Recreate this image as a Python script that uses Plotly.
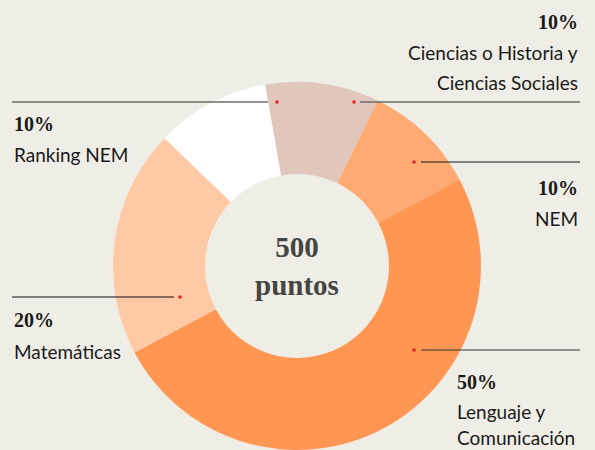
import plotly.graph_objects as go

W, H = 595, 450

# Data
categories = ["Ciencias o Historia y Ciencias Sociales", "NEM", "Lenguaje y Comunicación", "Matemáticas", "Ranking NEM"]
values = [10, 10, 50, 20, 10]
colors = ["#e0c6bb", "#ffaa72", "#ff9752", "#ffc9a6", "#ffffff"]
pct_labels = ["10%", "10%", "50%", "20%", "10%"]
name_lines = [["Ciencias o Historia y", "Ciencias Sociales"], ["NEM"], ["Lenguaje y", "Comunicación"], ["Matemáticas"], ["Ranking NEM"]]
center_text = "500<br>puntos"

BG = "#efeee6"

def px(x):
    return x / W

def py(y):
    return 1 - y / H

# pie geometry (pixels)
cx, cy, R = 297, 266, 184

fig = go.Figure(go.Pie(
    labels=categories, values=values, sort=False, direction="clockwise",
    rotation=-10, hole=0.5,
    marker=dict(colors=colors, line=dict(width=0)),
    textinfo="none", hoverinfo="label+percent", showlegend=False,
    domain=dict(x=[px(cx - R), px(cx + R)], y=[max(0, py(cy + R)), py(cy - R)]),
))

# label layout: dot position, line extent, text anchor and rows
label_cfg = [
    dict(dot=(354, 102), line=(360, 580), lc="#6d6d68", lw=1.6, tx=580, anchor="right", ys=[22, 53, 82]),
    dict(dot=(414, 162), line=(421, 580), lc="#111111", lw=1.2, tx=580, anchor="right", ys=[188, 218]),
    dict(dot=(414, 350), line=(421, 580), lc="#333333", lw=1.2, tx=455, anchor="left", ys=[382, 411, 437]),
    dict(dot=(180, 297), line=(12, 174), lc="#111111", lw=1.2, tx=12, anchor="left", ys=[320, 351]),
    dict(dot=(277, 102), line=(12, 268), lc="#6d6d68", lw=1.6, tx=12, anchor="left", ys=[124, 154]),
]

shapes = []
annotations = []
for i, cfg in enumerate(label_cfg):
    dx, dy = cfg["dot"]
    x0, x1 = cfg["line"]
    shapes.append(dict(type="line", xref="paper", yref="paper", x0=px(x0), x1=px(x1),
                       y0=py(dy), y1=py(dy), line=dict(color=cfg["lc"], width=cfg["lw"])))
    r = 1.8
    shapes.append(dict(type="circle", xref="paper", yref="paper", x0=px(dx - r), x1=px(dx + r),
                       y0=py(dy + r), y1=py(dy - r), fillcolor="#e8202a", line=dict(width=0)))
    rows = [pct_labels[i]] + name_lines[i]
    for j, (txt, yy) in enumerate(zip(rows, cfg["ys"])):
        if j == 0:
            font = dict(family="Liberation Serif", size=20, color="#1a1a1a", weight="bold")
        else:
            font = dict(family="Lato", size=19, color="#1a1a1a")
        annotations.append(dict(text=txt, x=px(cfg["tx"]), y=py(yy), xref="paper", yref="paper",
                                xanchor=cfg["anchor"], yanchor="middle", showarrow=False, font=font))

annotations.append(dict(text=center_text, x=px(cx), y=py(cy), xref="paper", yref="paper",
                        xanchor="center", yanchor="middle", showarrow=False,
                        font=dict(family="Liberation Serif", size=29, color="#454545", weight="bold")))

fig.update_layout(
    width=W, height=H, margin=dict(l=0, r=0, t=0, b=0),
    paper_bgcolor=BG, plot_bgcolor=BG,
    shapes=shapes, annotations=annotations,
)

fig.write_html("out.html", config={"displayModeBar": False},
               post_script="document.body.style.margin='0';document.body.style.overflow='hidden';")
